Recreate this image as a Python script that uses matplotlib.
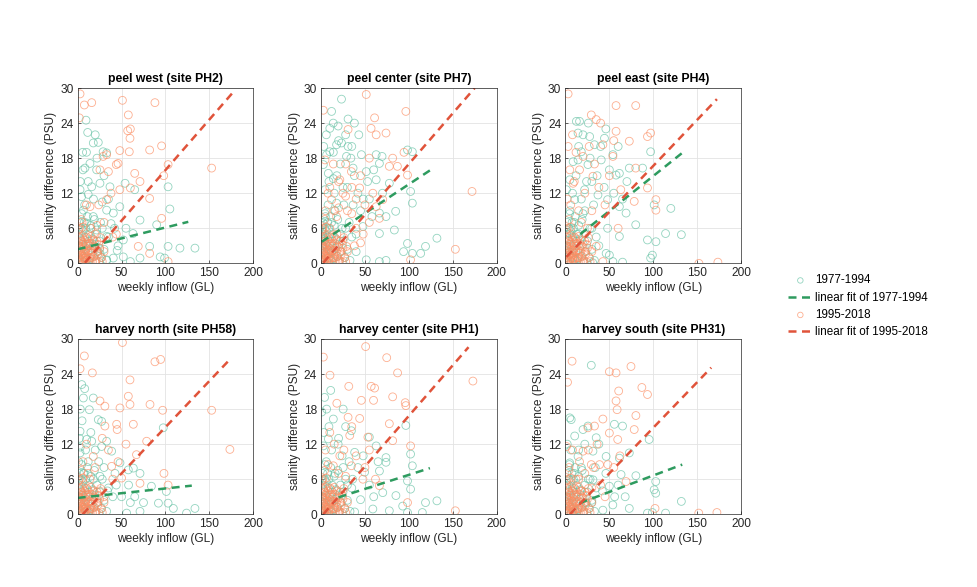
import numpy as np
import matplotlib
matplotlib.use("Agg")
import matplotlib.pyplot as plt

plt.rcParams['font.family'] = ['Liberation Sans', 'DejaVu Sans']
plt.rcParams['font.size'] = 8.6

titles = ["peel west (site PH2)", "peel center (site PH7)", "peel east (site PH4)",
          "harvey north (site PH58)", "harvey center (site PH1)", "harvey south (site PH31)"]
xticks = [0, 50, 100, 150, 200]
yticks = [0, 6, 12, 18, 24, 30]

# points close to the origin, common to all sites
cluster_1977 = [(0.5, 1), (1, 3), (1.5, 5), (2, 7), (2.5, 0.5), (3, 2), (3.5, 4), (4, 6), (4.5, 8.5),
                (5, 1.5), (5.5, 3.2), (6, 5.5), (6.5, 0.3), (7, 2.5), (7.5, 7), (8, 4.5), (8.5, 1),
                (9, 6), (10, 3), (10.5, 0.6), (11, 8), (12, 2), (12.5, 5), (13, 3.8), (14, 0.8),
                (15, 6.5), (16, 2.6), (17, 4.2), (18, 1.2), (19, 7.5), (20, 3.3), (21, 0.4), (22, 5),
                (23, 2), (25, 3.8), (27, 1), (28, 6), (30, 2.4), (33, 0.5), (35, 4.5)]
cluster_1995 = [(0.3, 0.5), (0.8, 2), (1.2, 3.5), (1.5, 1), (2, 4.5), (2.5, 0.2), (3, 2.6), (3.5, 1.3),
                (4, 3.8), (4.5, 0.6), (5, 2), (5.5, 4.6), (6, 1.2), (6.5, 3), (7, 0.3), (7.5, 2.2),
                (8, 4), (8.5, 1.5), (9, 0.5), (9.5, 3.3), (10, 2.5), (11, 0.9), (11.5, 4.2), (12, 1.8),
                (13, 3), (13.5, 0.4), (14, 2.2), (15, 4.6), (15.5, 1), (16, 3.4), (17, 0.3), (17.5, 2),
                (18.5, 4), (19, 1.2), (20, 2.8), (21, 0.5), (22, 3.8), (23, 1.6), (24, 0.2), (25, 2.6),
                (26, 4.4), (27, 1), (28, 0.3), (30, 2), (2, 6), (4, 7.5), (1, 5.8), (6, 6.2),
                (1, 0.2), (2.2, 1.8), (3.2, 4.2), (4.2, 2.4), (5.2, 0.9), (6.2, 3.6), (7.2, 1.8),
                (8.2, 0.8), (9.2, 2.2), (10.2, 4.5), (12.2, 3.4), (14.2, 1), (16.2, 1.8), (18.2, 3),
                (20.2, 0.2), (22.2, 2), (24.2, 3.2), (0.5, 3), (1.8, 2.8), (3.8, 0.4)]

# site specific points (weekly inflow GL, salinity difference PSU)
pw_1977 = [(9.5, 24.5), (11.4, 22.4), (17.8, 20.6), (23.5, 20.7), (5.7, 19), (8.3, 16.3), (14, 17.1),
           (29, 19.1), (33, 18.9), (21.6, 16), (25.4, 13.7), (16, 13.1), (2.7, 12.6), (4.5, 11.4),
           (36.8, 13.1), (54, 13.7), (65, 12.6), (103, 13.1), (105, 9.3), (90, 6.6), (71, 7.4),
           (48, 9.7), (40.6, 8.6), (33, 9.1), (17.8, 8), (6.5, 9.1), (10, 6.9), (21.6, 5.7),
           (33, 4.6), (52, 4), (63, 5.1), (82, 2.9), (103, 2.9), (116.5, 2.6), (133.6, 2.6),
           (94, 1.1), (99, 0.9), (71, 0.9), (52, 1.1), (40.6, 0.9), (33, 0.6), (25.4, 1.7), (14, 3.4),
           (60, 0.3), (45, 2.2), (28, 10.5), (12, 11.8), (38, 6.8),
           (3, 14), (6, 16), (10, 19), (12, 14), (18, 11), (22, 18), (26, 7), (30, 15), (35, 11),
           (42, 6), (46, 3), (55, 6), (15, 6), (8, 10), (20, 22), (25, 2.5)]
pw_1995 = [(2.7, 29), (7.6, 27.1), (16, 27.5), (51, 27.9), (88, 27.5), (1.9, 24.9), (57.7, 25.4),
           (60, 23), (57, 22.7), (59.6, 21.4), (48, 19.3), (58.8, 19.1), (82, 19.4), (95.6, 20.1),
           (33, 18.6), (29, 18.3), (46, 17.1), (44, 16.9), (25.4, 16), (35, 15.7), (65, 15.4),
           (71, 14), (152.6, 16.3), (98, 15), (103, 16.9), (48, 12.6), (60, 12.9), (82, 11.1),
           (33, 10.9), (14, 9.7), (95.6, 7.7), (82, 1.7), (103, 0.3), (69, 2.9), (22, 6.5), (40, 4.5),
           (5, 7), (10, 10), (15, 6), (20, 5), (24, 10), (30, 7), (38, 12), (44, 5)]

pc_1977 = [(23.3, 28.1), (30.8, 24.7), (13.9, 24), (19.5, 23.5), (10, 23.1), (43, 22), (23.3, 20.6),
           (17.7, 20.3), (30.8, 20), (10, 19.1), (6.4, 18.6), (29, 18.3), (46, 18.6), (62.8, 18.6),
           (69.5, 18.3), (98.5, 19.4), (104, 19.1), (2.6, 16.9), (8.3, 15.4), (36.5, 16.3),
           (51.5, 15.7), (66.5, 17.1), (53, 14), (62.8, 14.3), (77.8, 13.7), (102, 12.3), (104, 10.3),
           (85, 8.9), (74, 8), (66.5, 8.6), (36.5, 10), (17.7, 10.3), (4.5, 12.6), (47.7, 6.3),
           (66.5, 5.1), (83.5, 5.7), (119, 2.9), (132, 4.3), (98.5, 3.4), (94, 2), (104, 1.7),
           (113.5, 1.7), (66.5, 0.3), (74, 0.5), (51.5, 0.6), (2.6, 4.6), (2.6, 2.9), (1, 3.8),
           (1, 5.5), (1.5, 6.5), (0.5, 4.2), (25, 13), (14, 14.5), (40, 2),
           (5, 8), (8, 10), (12, 7), (15, 12), (18, 15), (22, 17), (26, 10), (30, 13), (34, 18),
           (38, 15), (42, 12), (45, 9), (48, 11), (20, 21), (28, 22), (35, 20), (3, 20), (6, 22),
           (9, 14), (14, 19), (16, 9), (24, 6), (32, 7), (40, 5), (55, 11), (58, 8), (60, 16),
           (70, 12), (12, 26), (38, 24)]
pc_1995 = [(51.5, 28.9), (2.6, 26.2), (96.6, 26), (61, 24.9), (30.8, 22.9), (57, 23.1), (62.8, 22),
           (74, 22.3), (55, 18), (4.5, 17.7), (81.6, 18), (94.5, 19), (77.8, 16.6), (87, 16.6),
           (98.5, 15.1), (34.6, 15.7), (21.4, 14.3), (44, 12.9), (59, 12), (70.3, 10.9), (172, 12.3),
           (153, 2.4), (102, 0.6), (29, 2.9), (17.7, 8), (12, 10.9), (66.5, 7.7), (62.8, 9.7),
           (40, 6), (28, 11.5), (10, 13), (20, 9.5), (45, 3.5), (35, 8.5),
           (10, 6), (15, 9), (25, 12), (30, 9), (35, 13), (40, 11), (45, 15), (50, 10), (55, 7),
           (20, 14), (14, 17), (8, 12), (5, 9), (18, 5), (38, 3), (28, 17), (48, 5)]

pe_1977 = [(12.4, 24.3), (16, 24.3), (14.3, 22.3), (27.5, 21.7), (33, 20.3), (46, 23), (44.4, 21.4),
           (18, 19.1), (8.7, 17.4), (14.3, 17.7), (25.6, 16.9), (40.7, 17.7), (54, 18.6), (61.4, 15.4),
           (57.6, 15.1), (72.7, 16.3), (87.8, 16.3), (97, 19.1), (4.9, 14.3), (21.8, 12.6), (37, 11.7),
           (48, 10.9), (61.4, 9.7), (69, 8.6), (101, 10), (120, 9.4), (80, 6.6), (61.4, 4.6),
           (93.4, 4), (114, 5.1), (132, 4.9), (103, 3.7), (46.3, 1.7), (50, 1.4), (99, 1.4), (97, 0.9),
           (54, 0.3), (65, 0.2), (31, 0.1), (10.5, 10.9), (1.1, 12.6), (4.9, 5.1), (30, 14), (20, 8.5),
           (5, 9), (8, 12), (12, 15), (15, 20), (20, 22), (24, 14), (28, 18), (32, 10), (36, 15),
           (40, 20), (44, 13), (50, 16), (55, 12), (60, 20), (65, 11), (22, 9), (30, 6), (10, 7),
           (18, 11), (26, 24), (48, 6), (38, 3), (70, 14), (15, 5)]
pe_1995 = [(3, 29), (57.6, 27), (80, 27), (29.4, 25.4), (35, 24.6), (57.6, 22.6), (93.4, 21.7),
           (97, 22.3), (72.7, 20.9), (42.6, 20.3), (3, 20), (20, 18.3), (54, 18.3), (80, 16.3),
           (93.4, 12.9), (4.9, 16), (8.7, 13.7), (31.3, 14.9), (63, 12.6), (78.3, 10.6), (103, 9.1),
           (103, 10.9), (152, 0), (173.6, 0.2), (35, 2.9), (42.6, 0.3), (15, 9), (25, 6), (2, 11),
           (6, 10), (10, 14), (16, 16), (22, 12), (27, 20), (33, 17), (38, 13), (45, 10), (50, 15),
           (55, 21), (12, 19), (18, 7), (30, 9), (40, 24), (8, 22), (60, 6)]

hn_1977 = [(4.6, 22.2), (8, 21.5), (6.5, 19.9), (17.8, 19.9), (13.3, 17.9), (23.5, 16.2), (27.3, 15.9),
           (2.7, 14.2), (10.2, 12.8), (16, 12.5), (33, 12.5), (27.3, 11.6), (38.7, 10.8), (48.2, 8.8),
           (42.5, 7), (57.7, 7.6), (63.4, 7.9), (71, 7), (97.5, 14.8), (84, 4.8), (101, 3.9), (92, 1.9),
           (103, 1.9), (109, 1), (124, 0.2), (133.6, 1), (71, 0.5), (55.8, 0.2), (25.4, 6.5),
           (6.5, 7), (2.7, 10.5), (1, 9), (3, 11.5), (40, 3), (60, 2),
           (2, 13), (5, 16), (9, 11), (12, 9), (15, 14), (20, 11), (24, 9), (30, 8), (34, 4),
           (44, 5), (50, 3), (58, 5), (65, 3), (75, 2), (3, 18), (18, 6)]
hn_1995 = [(51, 29.4), (7.6, 27.1), (2.7, 24.9), (16.7, 24.2), (88, 26.1), (94.5, 26.5), (59.6, 23),
           (57.7, 20.2), (59.6, 18.8), (48.2, 18.2), (82.4, 18.8), (96.8, 17.8), (152.6, 17.8),
           (25.4, 19.4), (31, 18.5), (44.4, 15.4), (45, 14.5), (31, 15.1), (63.4, 15.4), (78.6, 12.5),
           (173.4, 11.1), (98.3, 7), (103, 5), (67, 10.2), (38.7, 8.2), (17.8, 9.9), (50, 6.2),
           (71, 5.3), (25, 4), (12, 7),
           (6, 9), (10, 12), (14, 6), (20, 8), (28, 13), (35, 11), (40, 6), (46, 9), (55, 12), (30, 3)]

hc_1977 = [(11, 21.2), (6.4, 18), (25.2, 18), (14, 16.3), (0.8, 17.5), (34.6, 14.3), (55, 13.2),
           (96.6, 15.2), (8.3, 12.9), (19.5, 12), (38.3, 10.6), (62.8, 11.7), (74, 9.7), (74, 8.9),
           (102, 10.3), (104, 8.3), (66.5, 7.4), (49.6, 7.2), (25.2, 8), (2.6, 11.7), (98.5, 5.7),
           (102, 4.3), (70.3, 3.7), (119, 2), (132, 2.3), (93, 1.4), (115.4, 0.3), (98.5, 0.3),
           (77.8, 0.6), (59, 0.9), (38.3, 0.4), (85.3, 3.2), (30, 5), (45, 2.5),
           (3, 14), (6, 9), (9, 15), (12, 11), (16, 7), (20, 13), (24, 10), (28, 15), (32, 9),
           (36, 6), (42, 8), (48, 10), (55, 5), (60, 3), (65, 9), (4, 20)]
hc_1995 = [(2.6, 26.9), (50.8, 28.7), (74.8, 26.8), (87.2, 24.2), (10.2, 23.8), (31.6, 21.9),
           (57.1, 21.9), (61, 21.6), (45.9, 19.5), (59.8, 19.5), (81.6, 20.1), (95.9, 19.1),
           (96.6, 18.6), (173, 22.8), (44, 16.4), (30.8, 16.6), (32.7, 13.5), (77.8, 15.5),
           (81.6, 12.6), (53.4, 13.2), (102, 11.7), (153, 0.6), (34.6, 8.3), (21.4, 10), (14, 8.3),
           (47.7, 6), (66.5, 4.9), (98.5, 2), (8, 8.5), (28, 6.5),
           (5, 11), (10, 14), (15, 12), (20, 7), (26, 11), (35, 15), (40, 10), (50, 8), (55, 11),
           (62, 6), (18, 19)]

hs_1977 = [(29.4, 25.5), (4.9, 16.5), (6.5, 16.2), (10.5, 13.4), (20, 14.5), (25.6, 15.1), (35, 13.1),
           (55.7, 15.4), (65, 15.1), (95.3, 12.8), (31.3, 10.8), (14.3, 9.9), (4.9, 8.8), (46.3, 9.9),
           (61.4, 9.6), (72.7, 10.5), (80.2, 6.6), (63.3, 6.8), (102.8, 5.6), (101, 4.2), (102.8, 3.6),
           (132, 2.2), (114, 0.2), (93.4, 0.2), (99, 0.3), (72.7, 1), (53.9, 1.6), (42.6, 0.7),
           (23.7, 1.9), (50, 4.8), (31.3, 5.9),
           (2, 12), (6, 11), (10, 7), (15, 11), (18, 8), (22, 12), (26, 6), (34, 8), (38, 12),
           (42, 4), (46, 7), (56, 3), (60, 5), (68, 3), (8, 4), (30, 2)]
hs_1995 = [(7.5, 26.2), (2.3, 22.6), (50, 24.4), (57.6, 24.2), (74.6, 25.3), (60.6, 21.1), (87, 21.7),
           (93.4, 20.5), (57.6, 19.4), (58.8, 17.9), (80.2, 16.9), (42.6, 16.3), (50, 13.9),
           (25.6, 14.8), (33, 15.1), (78.3, 14.5), (59.5, 12.8), (20, 10.8), (38.8, 8.5), (48.2, 8.5),
           (29.4, 8.5), (69, 5.6), (1.1, 11.6), (151.8, 0.2), (172.5, 0.3), (102, 1), (15, 6), (30, 4.5),
           (4, 8), (8, 11), (12, 6), (16, 9), (22, 7), (26, 11), (32, 8), (36, 12), (40, 5), (45, 3),
           (55, 8), (62, 10), (18, 4)]

# linear fit end points: (x0, y0, x1, y1)
fit_1977 = [(0, 2.4, 126, 7.1), (0.8, 3.7, 126, 16.1), (17, 5.0, 133, 18.9),
            (0, 2.8, 130, 4.9), (20, 2.9, 124, 7.9), (16, 1.9, 133, 8.5)]
fit_1995 = [(8.3, 0.1, 176, 29.1), (2.6, 0.1, 175, 30), (1.1, 1.1, 172.5, 28.1),
            (5.7, 0.0, 174, 26.6), (2.6, 0.0, 168, 28.6), (5, 0.0, 166, 25.1)]

old_sets = [pw_1977, pc_1977, pe_1977, hn_1977, hc_1977, hs_1977]
new_sets = [pw_1995, pc_1995, pe_1995, hn_1995, hc_1995, hs_1995]

teal = '#66c2a5'
orange = '#fc8d62'
green = '#2e9b5f'
red = '#e0533a'

fig = plt.figure(figsize=(9.77, 5.87), dpi=100)
lefts = [0.0795, 0.3286, 0.5788]
bottoms = [0.5514, 0.1239]
w, h = 0.1797, 0.2986

for i in range(6):
    ax = fig.add_axes([lefts[i % 3], bottoms[i // 3], w, h])
    old = np.array(cluster_1977 + old_sets[i])
    new = np.array(cluster_1995 + new_sets[i])
    ax.scatter(old[:, 0], old[:, 1], s=32, facecolors='none', edgecolors=teal,
               linewidths=0.6, alpha=0.7, label='1977-1994')
    f = fit_1977[i]
    ax.plot([f[0], f[2]], [f[1], f[3]], color=green, lw=1.8, dashes=(3.2, 2.2),
            label='linear fit of 1977-1994')
    ax.scatter(new[:, 0], new[:, 1], s=32, facecolors='none', edgecolors=orange,
               linewidths=0.6, alpha=0.7, label='1995-2018')
    f = fit_1995[i]
    ax.plot([f[0], f[2]], [f[1], f[3]], color=red, lw=1.8, dashes=(3.2, 2.2),
            label='linear fit of 1995-2018')

    ax.set_xlim(0, 200)
    ax.set_ylim(0, 30)
    ax.set_xticks(xticks)
    ax.set_yticks(yticks)
    ax.grid(True, color='#e3e3e3', lw=0.6)
    ax.set_axisbelow(True)
    ax.tick_params(direction='in', length=2.5, width=0.5, colors='#262626', labelsize=8.6, pad=3)
    for s in ax.spines.values():
        s.set_color('#262626')
        s.set_linewidth(0.5)
    ax.set_title(titles[i], fontsize=8.8, fontweight='bold', pad=4)
    ax.set_xlabel('weekly inflow (GL)', fontsize=8.6, color='#262626', labelpad=2)
    ax.set_ylabel('salinity difference (PSU)', fontsize=8.6, color='#262626', labelpad=2)
    if i == 0:
        handles, labels = ax.get_legend_handles_labels()

fig.legend(handles, labels, loc='upper left', bbox_to_anchor=(777 / 977, 1 - 264 / 587),
           frameon=False, fontsize=8.4, handlelength=2.2, handletextpad=0.15,
           labelspacing=0.45, markerscale=0.7)

fig.savefig('out.png', dpi=100)
